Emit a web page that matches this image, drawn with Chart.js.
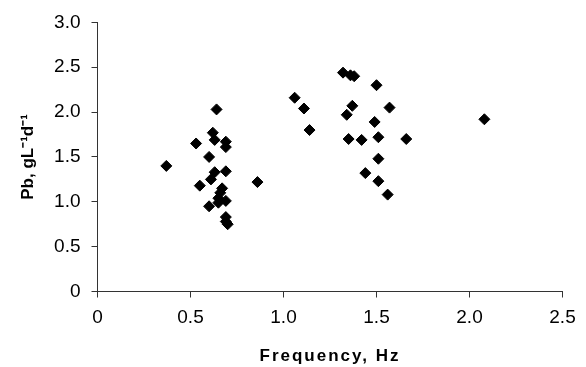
<!DOCTYPE html>
<html>
<head>
<meta charset="utf-8">
<script src="https://cdn.jsdelivr.net/npm/chart.js@4.4.0/dist/chart.umd.min.js"></script>
<style>
  html, body { margin: 0; padding: 0; background: #fff; }
  #wrap { width: 586px; height: 367px; }
</style>
</head>
<body>
<div id="wrap"><canvas id="grafico" width="586" height="367"></canvas></div>
<script>
// frecuencia (Hz) y tasa de Pb (g/L/d)
const freqHz = [
  0.37, 0.53, 0.55, 0.60, 0.60, 0.61, 0.62, 0.63, 0.63, 0.64,
  0.65, 0.65, 0.66, 0.67, 0.69, 0.69, 0.69, 0.69, 0.69, 0.69,
  0.70, 0.86,
  1.06, 1.11, 1.14, 1.32, 1.34, 1.35, 1.36, 1.37, 1.38, 1.42,
  1.44, 1.49, 1.50, 1.51, 1.51, 1.51, 1.56, 1.57, 1.66, 2.08
];
const pbRate = [
  1.40, 1.65, 1.18, 1.50, 0.95, 1.25, 1.77, 1.69, 1.33, 2.03,
  1.04, 0.99, 1.10, 1.15, 1.67, 1.61, 1.34, 1.01, 0.83, 0.78,
  0.75, 1.22,
  2.16, 2.04, 1.80, 2.44, 1.97, 1.70, 2.41, 2.07, 2.40, 1.69,
  1.32, 1.89, 2.30, 1.72, 1.48, 1.23, 1.08, 2.05, 1.70, 1.92
];
const xTicks = [0, 0.5, 1.0, 1.5, 2.0, 2.5];
const yTicks = [0, 0.5, 1.0, 1.5, 2.0, 2.5, 3.0];

const fuente = 'Liberation Sans, Arial, sans-serif';
const colorEje = '#333';

function etiqueta(v) {
  return v === 0 ? '0' : v.toFixed(1);
}

// el titulo del eje x va con letras separadas
const espaciado = {
  id: 'espaciado',
  beforeDraw(chart) {
    const esc = chart.scales.x;
    if (!esc || esc._espaciado) return;
    const orig = esc.drawTitle;
    esc.drawTitle = function () {
      const ctx = this.ctx;
      ctx.save();
      ctx.letterSpacing = '2px';
      orig.apply(this, arguments);
      ctx.restore();
    };
    esc._espaciado = true;
  }
};

let puntos = freqHz.map((f, i) => ({ x: f, y: pbRate[i] }));

new Chart(document.getElementById('grafico'), {
  type: 'scatter',
  data: {
    datasets: [{
      label: 'Pb',
      data: puntos,
      pointStyle: 'rectRot',
      pointRadius: 5.5,
      pointHoverRadius: 5.5,
      backgroundColor: '#000',
      borderColor: '#000',
      borderWidth: 1
    }]
  },
  options: {
    responsive: false,
    animation: false,
    layout: { padding: { top: 21, right: 23.5, left: 0, bottom: 0 } },
    plugins: {
      legend: { display: false },
      tooltip: { enabled: false }
    },
    scales: {
      x: {
        type: 'linear',
        min: 0, max: 2.5,
        afterBuildTicks: s => { s.ticks = xTicks.map(v => ({ value: v })); },
        afterFit: s => { s.height = 75.5; },
        grid: { drawOnChartArea: false, tickLength: 6, color: colorEje },
        border: { color: colorEje, width: 1 },
        ticks: {
          callback: v => etiqueta(v),
          color: '#000',
          padding: 9,
          maxRotation: 0,
          font: { family: fuente, size: 19 }
        },
        title: {
          display: true,
          text: 'Frequency, Hz',
          color: '#000',
          padding: { top: 0, bottom: 0 },
          font: { family: fuente, size: 17, weight: 'bold' }
        }
      },
      y: {
        type: 'linear',
        min: 0, max: 3,
        afterBuildTicks: s => { s.ticks = yTicks.map(v => ({ value: v })); },
        afterFit: s => { s.width = 97.5; },
        grid: { drawOnChartArea: false, tickLength: 6, color: colorEje },
        border: { color: colorEje, width: 1 },
        ticks: {
          callback: v => etiqueta(v),
          color: '#000',
          padding: 11,
          font: { family: fuente, size: 19 }
        },
        title: {
          display: true,
          text: 'Pb, gL⁻¹d⁻¹',
          color: '#000',
          padding: { top: 18, bottom: 0 },
          font: { family: fuente, size: 17, weight: 'bold' }
        }
      }
    }
  },
  plugins: [espaciado]
});
</script>
</body>
</html>
